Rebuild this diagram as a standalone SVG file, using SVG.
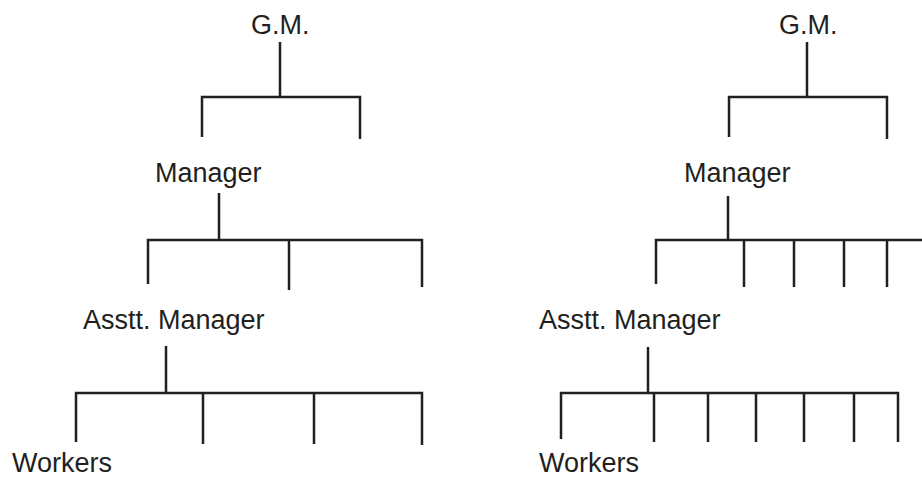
<svg xmlns="http://www.w3.org/2000/svg" width="922" height="478" viewBox="0 0 922 478">
  <style>
    .lbl { font-family: "Liberation Sans", Arial, sans-serif; font-size: 27px; fill: #231f20; }
    .ln { stroke: #231f20; stroke-width: 2.5; fill: none; stroke-linecap: butt; }
  </style>
  <rect width="922" height="478" fill="#ffffff"/>

  <!-- Left chart: narrow span of control -->
  <g id="left-gm"><text class="lbl" x="251" y="34">G.M.</text></g>
  <g id="left-manager"><text class="lbl" x="155" y="182">Manager</text></g>
  <g id="left-asst"><text class="lbl" x="83" y="329">Asstt. Manager</text></g>
  <g id="left-workers"><text class="lbl" x="12" y="472">Workers</text></g>

  <!-- Right chart: wide span of control -->
  <g id="right-gm"><text class="lbl" x="779" y="34">G.M.</text></g>
  <g id="right-manager"><text class="lbl" x="684" y="182">Manager</text></g>
  <g id="right-asst"><text class="lbl" x="539" y="329">Asstt. Manager</text></g>
  <g id="right-workers"><text class="lbl" x="539" y="472">Workers</text></g>

  <g id="connectors" class="ln">
    <!-- left: G.M. to managers -->
    <path d="M280 42V97M202 137V97H360V139"/>
    <!-- left: manager to assistants -->
    <path d="M219 193V240M148 284V240H422V287M289 240V290"/>
    <!-- left: assistant to workers -->
    <path d="M166 346V393M76 442V393H422V445M203 393V444M314 393V444"/>

    <!-- right: G.M. to managers -->
    <path d="M807 42V97M729 137V97H887V139"/>
    <!-- right: manager to assistants -->
    <path d="M728 196V240M656 284V240H922M744 240V287M794 240V287M844 240V287M887 240V287"/>
    <!-- right: assistant to workers -->
    <path d="M648 347V393M561 439V393H898V442M654 393V442M708 393V442M756 393V442M804 393V442M854 393V442"/>
  </g>
</svg>
